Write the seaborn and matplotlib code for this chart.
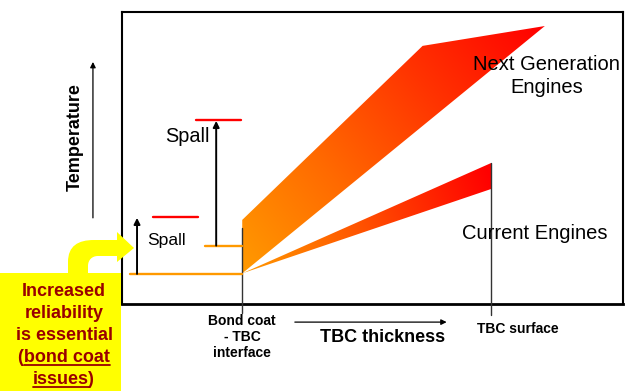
import numpy as np
import pandas as pd
import matplotlib
matplotlib.use("Agg")
import matplotlib.pyplot as plt
from matplotlib.patches import Polygon, Rectangle, PathPatch
from matplotlib.path import Path
from matplotlib.colors import LinearSegmentedColormap
import seaborn as sns

# Schematic units: TBC thickness 0-100 across the box, temperature 0-100 bottom to top
bond_coat_x = 24.0
tbc_surface_x = 73.7

# Horizontal temperature levels at the bond coat (start x, end x, temperature)
level_ids = ["current base", "next base", "current spall", "next spall"]
level_x0 = [1.6, 16.6, 6.2, 14.8]
level_x1 = [24.0, 24.0, 15.2, 23.8]
level_y = [10.3, 20.0, 29.8, 63.0]
level_kind = ["bond coat", "bond coat", "spall", "spall"]

# Temperature rise up to the spall limit
rise_x = [3.0, 18.8]
rise_y0 = [10.3, 20.0]
rise_y1 = [29.5, 62.7]

# Temperature bands through the coating
next_gen_x = [24.0, 24.0, 60.0, 84.4]
next_gen_y = [10.5, 28.8, 88.4, 95.2]
current_x = [24.0, 73.7, 73.7]
current_y = [10.5, 48.3, 39.4]

callout_lines = ["Increased", "reliability", "is essential", "(bond coat", "issues)"]

sns.set_theme(style="white")
plt.rcParams["font.family"] = ["Liberation Sans", "DejaVu Sans"]
plt.rcParams["text.color"] = "black"

W, H = 625, 391
fig = plt.figure(figsize=(W / 100, H / 100), dpi=100)
fig.patch.set_facecolor("white")

ax = fig.add_axes([122 / W, 87 / H, 501 / W, 292 / H])
ax.set_xlim(0, 100)
ax.set_ylim(0, 100)
ax.set_xticks([])
ax.set_yticks([])
for side, sp in ax.spines.items():
    sp.set_visible(True)
    sp.set_color("black")
    sp.set_linewidth(2.0 if side == "bottom" else 1.5)

# pixels per unit, used to run gradients along true screen directions
sx = 501 / 100
sy = 292 / 100

cmap = LinearSegmentedColormap.from_list("heat", ["#FF9A00", "#FF6A00", "#FF3300", "#FF0000"])


def gradient_band(xs, ys, p0, p1):
    poly = Polygon(np.column_stack([xs, ys]), closed=True, facecolor="none",
                   edgecolor="none")
    ax.add_patch(poly)
    x_lo, x_hi = min(xs), max(xs)
    y_lo, y_hi = min(ys), max(ys)
    gx = np.linspace(x_lo, x_hi, 400)
    gy = np.linspace(y_lo, y_hi, 400)
    X, Y = np.meshgrid(gx, gy)
    dx, dy = (p1[0] - p0[0]) * sx, (p1[1] - p0[1]) * sy
    t = ((X - p0[0]) * sx * dx + (Y - p0[1]) * sy * dy) / (dx * dx + dy * dy)
    t = np.clip(t, 0, 1)
    im = ax.imshow(t, origin="lower", extent=[x_lo, x_hi, y_lo, y_hi], cmap=cmap,
                   vmin=0, vmax=1, aspect="auto", interpolation="bilinear", zorder=2)
    im.set_clip_path(poly)


gradient_band(next_gen_x, next_gen_y, (next_gen_x[0], next_gen_y[0]),
              (next_gen_x[3], next_gen_y[3]))
gradient_band(current_x, current_y, (current_x[0], current_y[0]),
              (current_x[1], (current_y[1] + current_y[2]) / 2))
ax.set_xlim(0, 100)
ax.set_ylim(0, 100)

# Bond coat and TBC surface markers, running below the box
ax.plot([bond_coat_x, bond_coat_x], [26.0, -3.1], color="#333333", lw=1.0,
        clip_on=False, zorder=3)
ax.plot([tbc_surface_x, tbc_surface_x], [current_y[1], -3.8], color="#333333", lw=1.0,
        clip_on=False, zorder=3)

# Temperature levels
levels = pd.DataFrame({
    "x": level_x0 + level_x1,
    "y": level_y + level_y,
    "segment": level_ids + level_ids,
    "kind": level_kind + level_kind,
})
sns.lineplot(data=levels, x="x", y="y", units="segment", estimator=None, hue="kind",
             palette={"bond coat": "#FF9900", "spall": "#FF0000"}, linewidth=1.7,
             legend=False, sort=False, ax=ax, zorder=4)
ax.set_xlabel("")
ax.set_ylabel("")

for x, y0, y1 in zip(rise_x, rise_y0, rise_y1):
    ax.annotate("", xy=(x, y1), xytext=(x, y0),
                arrowprops=dict(arrowstyle="-|>", color="black", lw=1.4,
                                mutation_scale=9, shrinkA=0, shrinkB=0), zorder=5)

ax.text(8.8, 21.6, "Spall", fontsize=12.6, ha="center", va="center")
ax.text(13.0, 57.5, "Spall", fontsize=14.3, ha="center", va="center")
ax.text(84.8, 78.0, "Next Generation\nEngines", fontsize=14.5, ha="center",
        va="center", linespacing=1.3, zorder=6)
ax.text(82.4, 24.0, "Current Engines", fontsize=14.5, ha="center", va="center", zorder=6)

# Axis captions outside the box
ax.text(-9.4, 57.2, "Temperature", fontsize=13, fontweight="bold", rotation=90,
        ha="center", va="center", clip_on=False)
ax.annotate("", xy=(-5.8, 82.9), xytext=(-5.8, 29.5), annotation_clip=False,
            arrowprops=dict(arrowstyle="-|>", color="black", lw=0.9,
                            mutation_scale=8, shrinkA=0, shrinkB=0))
ax.text(52.1, -11.6, "TBC thickness", fontsize=13, fontweight="bold", ha="center",
        va="center", clip_on=False)
ax.annotate("", xy=(64.8, -6.2), xytext=(34.5, -6.2), annotation_clip=False,
            arrowprops=dict(arrowstyle="-|>", color="black", lw=0.9,
                            mutation_scale=8, shrinkA=0, shrinkB=0))
ax.text(bond_coat_x, -11.3, "Bond coat\n- TBC\ninterface", fontsize=10,
        fontweight="bold", ha="center", va="center", clip_on=False)
ax.text(79.0, -8.6, "TBC surface", fontsize=10, fontweight="bold", ha="center",
        va="center", clip_on=False)

# Callout in figure pixel space
ov = fig.add_axes([0, 0, 1, 1], zorder=10)
ov.set_xlim(0, W)
ov.set_ylim(H, 0)
ov.axis("off")
ov.patch.set_alpha(0)

yellow = "#FFFF00"
ov.add_patch(Rectangle((0, 273), 121, H - 273, facecolor=yellow, edgecolor="none"))
verts = [
    (68, 276), (68, 262),
    (68, 246), (78, 240), (94, 240),
    (117, 240), (117, 232), (134, 248), (117, 262), (117, 256),
    (98, 256),
    (92, 256), (88, 260), (88, 266),
    (88, 276), (68, 276),
]
codes = [
    Path.MOVETO, Path.LINETO,
    Path.CURVE4, Path.CURVE4, Path.CURVE4,
    Path.LINETO, Path.LINETO, Path.LINETO, Path.LINETO, Path.LINETO,
    Path.LINETO,
    Path.CURVE4, Path.CURVE4, Path.CURVE4,
    Path.LINETO, Path.CLOSEPOLY,
]
ov.add_patch(PathPatch(Path(verts, codes), facecolor=yellow, edgecolor="none"))

text_color = "#990000"
baselines = [296, 318, 340, 362, 384]
callout_texts = []
for line, yb in zip(callout_lines, baselines):
    callout_texts.append(ov.text(64, yb, line, fontsize=13, fontweight="bold",
                                 color=text_color, ha="center", va="baseline"))

fig.canvas.draw()
renderer = fig.canvas.get_renderer()
inv = ov.transData.inverted()


def text_width(s):
    tmp = ov.text(0, 0, s, fontsize=13, fontweight="bold")
    w = tmp.get_window_extent(renderer).width
    tmp.remove()
    return w


def underline(artist, yb, skip_left="", skip_right=""):
    bb = artist.get_window_extent(renderer)
    x0 = bb.x0 + (text_width(skip_left) if skip_left else 0)
    x1 = bb.x1 - (text_width(skip_right) if skip_right else 0)
    xa = inv.transform((x0, 0))[0]
    xb = inv.transform((x1, 0))[0]
    ov.plot([xa, xb], [yb + 2.5, yb + 2.5], color=text_color, lw=1.3)


underline(callout_texts[3], baselines[3], skip_left="(")
underline(callout_texts[4], baselines[4], skip_right=")")

fig.savefig("out.png", dpi=100, facecolor="white")
